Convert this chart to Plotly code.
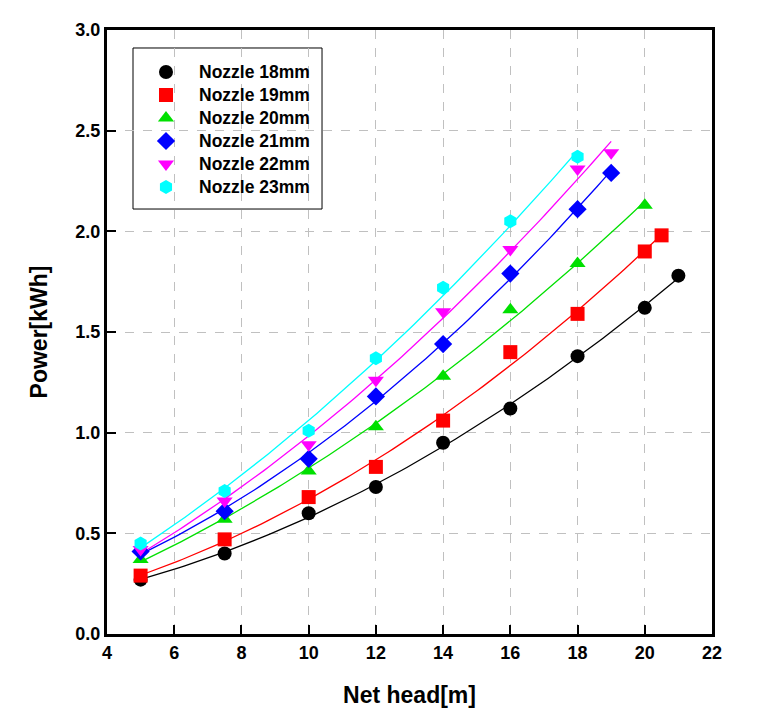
import numpy as np
import plotly.graph_objects as go

names = ["Nozzle 18mm", "Nozzle 19mm", "Nozzle 20mm", "Nozzle 21mm", "Nozzle 22mm", "Nozzle 23mm"]
colors = ["#000000", "#ff0000", "#00e000", "#0000ff", "#ff00ff", "#00ffff"]
symbols = ["circle", "square", "triangle-up", "diamond", "triangle-down", "hexagon"]

x18 = [5, 7.5, 10, 12, 14, 16, 18, 20, 21]
y18 = [0.27, 0.40, 0.60, 0.73, 0.95, 1.12, 1.38, 1.62, 1.78]
x19 = [5, 7.5, 10, 12, 14, 16, 18, 20, 20.5]
y19 = [0.29, 0.47, 0.68, 0.83, 1.06, 1.40, 1.59, 1.90, 1.98]
x20 = [5, 7.5, 10, 12, 14, 16, 18, 20]
y20 = [0.37, 0.57, 0.81, 1.03, 1.28, 1.61, 1.84, 2.13]
x21 = [5, 7.5, 10, 12, 14, 16, 18, 19]
y21 = [0.41, 0.61, 0.87, 1.18, 1.44, 1.79, 2.11, 2.29]
x22 = [5, 7.5, 10, 12, 14, 16, 18, 19]
y22 = [0.42, 0.66, 0.94, 1.26, 1.60, 1.91, 2.31, 2.39]
x23 = [5, 7.5, 10, 12, 14, 16, 18]
y23 = [0.45, 0.71, 1.01, 1.37, 1.72, 2.05, 2.37]

xs = [x18, x19, x20, x21, x22, x23]
ys = [y18, y19, y20, y21, y22, y23]

x_ticks = [4, 6, 8, 10, 12, 14, 16, 18, 20, 22]
y_ticks = [0.0, 0.5, 1.0, 1.5, 2.0, 2.5, 3.0]

font_family = "Arial, Liberation Sans, sans-serif"
fig = go.Figure()

# fitted trend lines (quadratic fit of each series)
for xv, yv, c in zip(xs, ys, colors):
    coef = np.polyfit(xv, yv, 2)
    xf = np.linspace(min(xv), max(xv), 100)
    fig.add_trace(go.Scatter(x=xf, y=np.polyval(coef, xf), mode="lines",
                             line=dict(color=c, width=1.3), showlegend=False,
                             hoverinfo="skip"))

for xv, yv, n, c, s in zip(xs, ys, names, colors, symbols):
    fig.add_trace(go.Scatter(x=xv, y=yv, mode="markers", name=n, showlegend=False,
                             marker=dict(color=c, symbol=s, size=14, line=dict(width=0))))

# custom legend (box, symbols on an overlay axis in 0..1 units, labels)
leg_x0, leg_x1, leg_y0, leg_y1 = 0.043, 0.3554, 0.7036, 0.9702
sym_x, txt_x = 0.0975, 0.1488
row_top, row_step = 0.9305, 0.03808
fig.add_shape(type="rect", xref="paper", yref="paper",
              x0=leg_x0, x1=leg_x1, y0=leg_y0, y1=leg_y1,
              line=dict(color="black", width=1), fillcolor="white", layer="between")
for i, (n, c, s) in enumerate(zip(names, colors, symbols)):
    yy = row_top - i * row_step
    fig.add_trace(go.Scatter(x=[sym_x], y=[yy], xaxis="x2", yaxis="y2", mode="markers",
                             showlegend=False, hoverinfo="skip",
                             marker=dict(color=c, symbol=s, size=14, line=dict(width=0))))
    fig.add_annotation(x=txt_x, y=yy, xref="paper", yref="paper", text=n,
                       showarrow=False, xanchor="left", yanchor="middle",
                       font=dict(size=17.5, family=font_family, weight="bold", color="black"))

fig.update_layout(
    width=760, height=715,
    margin=dict(l=99, r=56, t=22, b=89),
    paper_bgcolor="white", plot_bgcolor="white",
    font=dict(family=font_family, color="black", size=18, weight="bold"),
    showlegend=False,
    xaxis=dict(range=[4, 22], tickvals=x_ticks, ticktext=[str(v) for v in x_ticks],
               showline=True, linecolor="black", linewidth=3, mirror=True,
               ticks="inside", ticklen=9, tickwidth=1.5, tickcolor="black",
               showgrid=True, gridcolor="#c0c0c0", griddash="dash", gridwidth=1,
               zeroline=False,
               title=dict(text="Net head[m]", font=dict(size=23, weight="bold"), standoff=26)),
    yaxis=dict(range=[0, 3.0], tickvals=y_ticks, ticktext=[f"{v:.1f}" for v in y_ticks],
               showline=True, linecolor="black", linewidth=3, mirror=True,
               ticks="inside", ticklen=9, tickwidth=1.5, tickcolor="black",
               showgrid=True, gridcolor="#c0c0c0", griddash="dash", gridwidth=1,
               zeroline=False,
               title=dict(text="Power[kWh]", font=dict(size=23, weight="bold"), standoff=22)),
    xaxis2=dict(range=[0, 1], overlaying="x", visible=False, fixedrange=True),
    yaxis2=dict(range=[0, 1], overlaying="y", visible=False, fixedrange=True),
)

fig.write_html("out.html")
